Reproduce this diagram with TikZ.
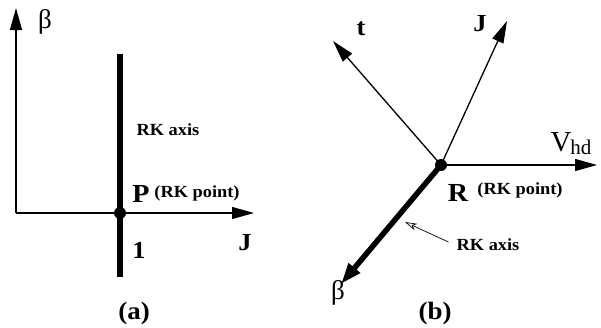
\documentclass[tikz,border=0pt]{standalone}
\usepackage{fontspec}
\setmainfont{Liberation Serif}
\newfontfamily\widebf[FakeStretch=1.08]{Liberation Serif Bold}
\usetikzlibrary{arrows.meta}
\tikzset{
  axis/.style={line width=1.3pt,-{Triangle[length=22pt,width=12pt]}},
  rkline/.style={line width=5.5pt},
  rkarrow/.style={line width=5.5pt,-{Triangle[length=21pt,width=14pt]}},
  pointer/.style={line width=0.7pt,-{Stealth[open,length=12pt,width=7pt,inset=3.5pt,line width=0.7pt]}},
  bigl/.style={font=\widebf\fontsize{26}{28}\selectfont,inner sep=0pt},
  midl/.style={font=\widebf\fontsize{24.5}{26}\selectfont,inner sep=0pt},
  smalll/.style={font=\widebf\fontsize{17}{19}\selectfont,inner sep=0pt},
  capl/.style={font=\widebf\fontsize{25}{27}\selectfont,inner sep=0pt},
  greek/.style={font=\fontsize{27}{29}\selectfont,inner sep=0pt},
  dot/.style={circle,fill=black,inner sep=0pt,minimum size=12pt}
}
\begin{document}
\begin{tikzpicture}[x=1pt,y=-1pt]
\useasboundingbox (0,0) rectangle (601,327);
% ---- panel (a)
\coordinate (O) at (16,213);
\coordinate (btip) at (16,8);
\coordinate (jtip) at (254,213);
\coordinate (rktop) at (120,54);
\coordinate (rkbot) at (120,277);
\draw[axis] (O) -- (btip);
\draw[axis] (O) -- (jtip);
\draw[rkline] (rktop) -- (rkbot);
\node[dot] (P) at (120,213) {};
\node[greek] (betaA) at (45,22) {β};
\node[smalll] (rkaxA) at (168,130) {RK axis};
\node[bigl] (Plab) at (141,194) {P};
\node[smalll] (rkptA) at (197,193) {(RK point)};
\node[midl] (JA) at (245,243) {J};
\node[midl] (one) at (139,250) {1};
\node[capl] (la) at (134,313) {(a)};
% ---- panel (b)
\coordinate (vtip) at (597,165);
\coordinate (jbtip) at (507,21);
\coordinate (ttip) at (333,41);
\coordinate (bbtip) at (341,284);
\draw[axis] (441,165) -- (vtip);
\draw[axis] (441,165) -- (jbtip);
\draw[axis] (441,165) -- (ttip);
\draw[rkarrow] (441,165) -- (bbtip);
\node[dot] (R) at (441,165) {};
\node[midl] (tl) at (361,29) {t};
\node[midl] (JB) at (480,24) {J};
\node[inner sep=0pt,font=\fontsize{29}{31}\selectfont] (vhd) at (571,144) {V\kern-1pt\raisebox{-3pt}{\fontsize{21}{23}\selectfont hd}};
\node[bigl] (Rlab) at (458,193) {R};
\node[smalll] (rkptB) at (520,190) {(RK point)};
\node[smalll] (rkaxB) at (488,245) {RK axis};
\coordinate (ptip) at (405,222);
\draw[pointer] (rkaxB.west) ++(-8,-3) -- (ptip);
\node[greek] (betaB) at (338,293) {β};
\node[capl] (lb) at (435,313) {(b)};
\end{tikzpicture}
\end{document}
